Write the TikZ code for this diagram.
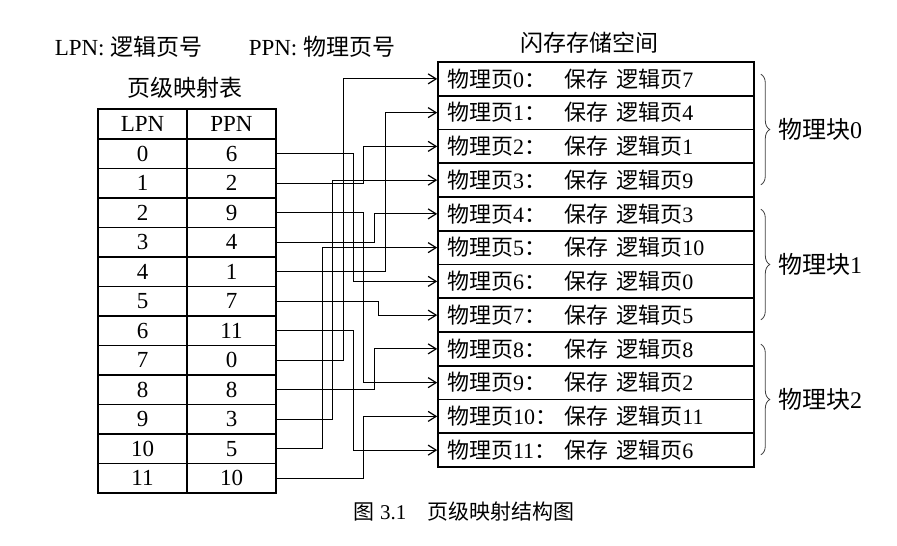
\documentclass[tikz,border=0pt]{standalone}
\usepackage{fontspec}
\setmainfont{Liberation Serif}
\newfontfamily\cjk{Noto Sans CJK SC}
\usetikzlibrary{arrows.meta,decorations.pathreplacing}

\newcommand{\pagetext}[2]{\makebox[59pt][l]{{\cjk 物理页}#1{\cjk ：}}{\cjk 保存}\ {\cjk 逻辑页}#2}

\begin{document}
\begin{tikzpicture}[thick, x=0.5pt, y=-0.5pt,
  cell/.style={draw, minimum width=44.5pt, minimum height=14.75pt, inner sep=0pt, font=\fontsize{11.5}{13}\selectfont},
  pagebox/.style={draw, text width=149pt, minimum height=16.875pt, inner xsep=4.5pt, inner ysep=0pt, align=left, font=\fontsize{11}{13}\selectfont},
  maplink/.style={-{Straight Barb[length=4pt,width=5pt]}, line width=0.6pt},
  blockbrace/.style={decorate, decoration={brace, amplitude=4.5pt}, line width=0.4pt, black!75},
  title/.style={inner sep=0pt, font=\fontsize{11.5}{13}\selectfont\cjk}]
\useasboundingbox (0,0) rectangle (897,545);

% Legenda
\node[anchor=west, inner sep=0pt, font=\fontsize{11.5}{13}\selectfont] (lpnnote) at (54,47) {LPN: {\cjk 逻辑页号}};
\node[anchor=west, inner sep=0pt, font=\fontsize{11.5}{13}\selectfont] (ppnnote) at (248,47) {PPN: {\cjk 物理页号}};

% Tabella di mappatura
\node[title] (maptitle) at (185,88) {页级映射表};
\node[cell] (lpnh) at (142.5,124) {LPN};
\node[cell] (ppnh) at (231.5,124) {PPN};
\foreach \l/\p in {0/6,1/2,2/9,3/4,4/1,5/7,6/11,7/0,8/8,9/3,10/5,11/10} {
  \node[cell] (lpn\l) at (142.5,153.75+29.5*\l) {\l};
  \node[cell] (ppn\l) at (231.5,153.75+29.5*\l) {\p};
}

% Spazio flash
\node[title] (flashtitle) at (589,43) {闪存存储空间};
\foreach \p/\l in {0/7,1/4,2/1,3/9,4/3,5/10,6/0,7/5,8/8,9/2,10/11,11/6}
  \node[pagebox] (page\p) at (596,78.875+33.75*\p) {\pagetext{\p}{\l}};

% Collegamenti LPN -> pagina fisica
\foreach \l/\p/\d in {0/6/77,1/2/87,2/9/87,3/4/98,4/1/109,5/7/102,6/11/77,7/0/67,8/8/98,9/3/56,10/5/46,11/10/87}
  \draw[maplink] (ppn\l.east) -- ++(\d,0) |- (page\p.west);

% Blocchi fisici
\foreach \b/\f/\t in {0/0/3,1/4/7,2/8/11}
  \draw[blockbrace] ([xshift=3pt,yshift=-6.5pt]page\f.north east) -- node[right=8.5pt, inner sep=0pt, black, font=\fontsize{12}{14}\selectfont] (block\b) {{\cjk 物理块}\b} ([xshift=3pt,yshift=6.5pt]page\t.south east);

% Didascalia
\node[font=\fontsize{10.5}{12}\selectfont] (caption) at (464,512) {{\cjk 图} 3.1\quad{\cjk 页级映射结构图}};
\end{tikzpicture}
\end{document}
